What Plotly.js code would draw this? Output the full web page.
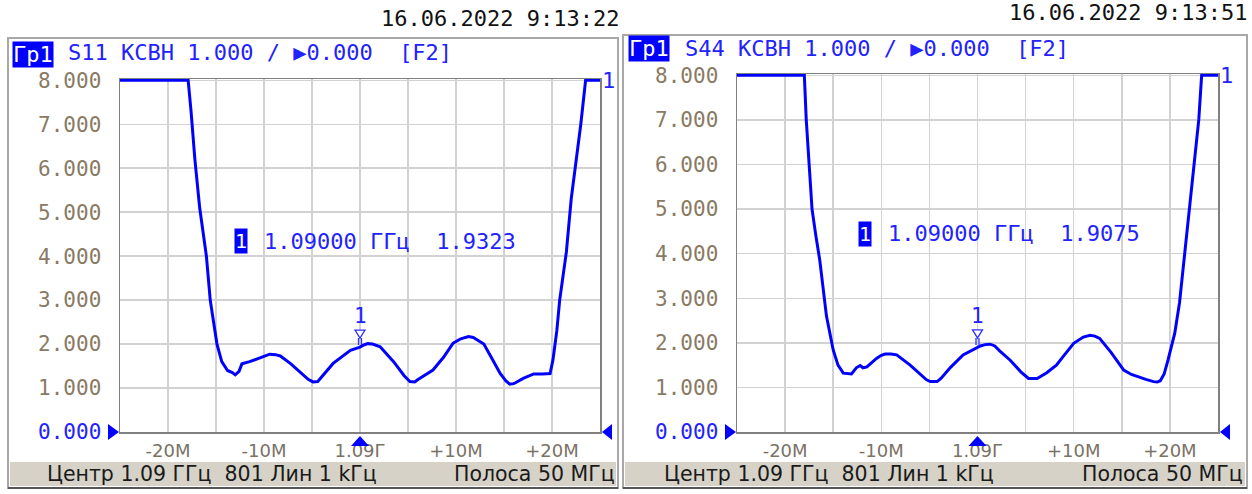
<!DOCTYPE html>
<html>
<head>
<meta charset="utf-8">
<script src="https://cdn.plot.ly/plotly-3.0.1.min.js"></script>
<style>html,body{margin:0;padding:0;background:#fff;}#chart{width:1252px;height:494px;}</style>
</head>
<body>
<div id="chart"></div>
<script>
// ---- data (frequency offset from 1.09 GHz, MHz ; VSWR, display-clipped at 8) ----
const s11Freq = [-25, -17.9, -17.6, -17.2, -16.7, -16.0, -15.6, -15.2, -14.9, -14.4, -13.8, -13.3, -13.0, -12.6, -12.3, -11.5, -10.5, -9.9, -9.4, -8.8, -8.3, -7.2, -6.0, -5.4, -4.9, -4.4, -4.2, -2.8, -1.0, 0.0, 0.4, 0.8, 1.3, 2.1, 3.5, 4.6, 5.2, 5.7, 6.0, 7.6, 8.7, 9.7, 10.5, 11.3, 11.8, 12.2, 12.9, 13.8, 14.6, 15.2, 15.6, 16.0, 16.2, 17.0, 18.1, 19.0, 19.8, 20.1, 20.5, 20.8, 21.5, 22.0, 22.5, 23.0, 23.5, 25];
const s11Vswr = [8, 8, 7.3, 6.2, 5.1, 4.0, 3.0, 2.4, 2.0, 1.6, 1.4, 1.35, 1.30, 1.38, 1.55, 1.60, 1.68, 1.74, 1.77, 1.76, 1.73, 1.55, 1.32, 1.20, 1.14, 1.15, 1.20, 1.56, 1.86, 1.9323, 1.98, 2.01, 2.0, 1.94, 1.60, 1.28, 1.15, 1.14, 1.19, 1.41, 1.70, 2.02, 2.12, 2.17, 2.15, 2.10, 2.00, 1.65, 1.33, 1.16, 1.09, 1.10, 1.12, 1.22, 1.32, 1.32, 1.33, 1.64, 2.3, 3.0, 4.1, 5.3, 6.1, 7.0, 8, 8];
const s44Freq = [-25, -18.0, -17.8, -17.5, -17.2, -16.8, -16.4, -15.7, -15.0, -14.5, -13.95, -13.1, -12.6, -12.2, -11.9, -11.5, -10.5, -10.0, -9.6, -9.0, -8.4, -7.0, -5.9, -5.3, -4.9, -4.2, -3.8, -2.8, -1.5, 0.0, 0.3, 0.8, 1.3, 1.8, 2.3, 3.4, 4.5, 5.3, 6.2, 7.2, 8.2, 9.0, 10.0, 11.0, 11.4, 11.7, 12.2, 12.7, 13.9, 15.2, 16.0, 16.6, 17.5, 18.3, 18.7, 19.0, 19.4, 19.8, 20.5, 21.0, 21.4, 22.1, 22.6, 23.0, 23.3, 25];
const s44Vswr = [8, 8, 7.0, 6.0, 5.0, 4.4, 3.86, 2.6, 1.84, 1.5, 1.32, 1.30, 1.44, 1.49, 1.44, 1.46, 1.65, 1.72, 1.75, 1.75, 1.73, 1.50, 1.28, 1.17, 1.13, 1.13, 1.20, 1.45, 1.73, 1.9075, 1.93, 1.96, 1.97, 1.93, 1.82, 1.61, 1.35, 1.20, 1.20, 1.33, 1.50, 1.72, 1.99, 2.13, 2.16, 2.17, 2.15, 2.10, 1.78, 1.39, 1.29, 1.24, 1.18, 1.13, 1.12, 1.15, 1.30, 1.61, 2.21, 2.9, 3.7, 5.2, 6.2, 7.0, 8, 8];
const xTickVals = [-20, -15, -10, -5, 0, 5, 10, 15, 20];
const xTickText = ['-20М', '', '-10М', '', '1.09Г', '', '+10М', '', '+20М'];
const yTickVals = [0, 1, 2, 3, 4, 5, 6, 7, 8];
const yTickText = ['<span style="color:#2222ff">0.000</span>', '1.000', '2.000', '3.000', '4.000', '5.000', '6.000', '7.000', '8.000'];
const markerFreq = 0;
const markerVals = [1.9323, 1.9075];
const headers = ['S11 КСВН 1.000 / ▶0.000  [F2]', 'S44 КСВН 1.000 / ▶0.000  [F2]'];
const dates = ['16.06.2022 9:13:22', '16.06.2022 9:13:51'];
const readouts = ['1.09000 ГГц  1.9323', '1.09000 ГГц  1.9075'];
const statusLeft = 'Центр 1.09 ГГц  801 Лин 1 kГц';
const statusRight = 'Полоса 50 МГц';

const W = 1252, H = 494;
const px = x => x / W;
const py = y => 1 - y / H;
const MONO = 'DejaVu Sans Mono';
const SANS = 'DejaVu Sans';
const BLUE = '#0000ff';
const TBLUE = '#2222ff';

function xax(dom, anchor) {
  return {domain: dom, anchor: anchor, range: [-25, 25], tickmode: 'array', tickvals: xTickVals, ticktext: xTickText,
    showgrid: true, gridcolor: '#d2d2d2', gridwidth: 1.5, showline: true, linecolor: '#808080', linewidth: 1.5,
    mirror: true, zeroline: false, ticks: 'outside', ticklen: 2, tickcolor: 'rgba(0,0,0,0)',
    tickfont: {family: SANS, size: 18, color: '#7a7266'}, fixedrange: true};
}
function yax(dom, anchor) {
  return {domain: dom, anchor: anchor, range: [0, 8.03], tickmode: 'array', tickvals: yTickVals, ticktext: yTickText,
    showgrid: true, gridcolor: '#d2d2d2', gridwidth: 1.5, showline: true, linecolor: '#808080', linewidth: 1.5,
    mirror: true, zeroline: false, ticks: 'outside', ticklen: 13, tickcolor: 'rgba(0,0,0,0)',
    tickfont: {family: MONO, size: 21, color: '#8a7a64'}, fixedrange: true};
}

const lineStyle = {color: BLUE, width: 3};
const traces = [
  {x: s11Freq, y: s11Vswr, xaxis: 'x', yaxis: 'y', mode: 'lines', line: lineStyle, hoverinfo: 'skip'},
  {x: s44Freq, y: s44Vswr, xaxis: 'x2', yaxis: 'y2', mode: 'lines', line: lineStyle, hoverinfo: 'skip'}
];

const shapes = [];
const annotations = [];
const panels = [
  {fx: [8, 618], fy: 38, pl: 120, pr: 600, xr: 'x', yr: 'y', gx: 12, gy: 54, hx: 66, hy: 53, dx: 621, dy: 18, bx: 234, by: 241, tx: 262, sl: 45, sr: 617},
  {fx: [623, 1247], fy: 35, pl: 737, pr: 1218, xr: 'x2', yr: 'y2', gx: 628, gy: 49, hx: 683, hy: 48, dx: 1249, dy: 13, bx: 858, by: 234, tx: 886, sl: 662, sr: 1245}
];
panels.forEach((p, i) => {
  // window frame
  shapes.push({type: 'rect', xref: 'paper', yref: 'paper', x0: px(p.fx[0]), x1: px(p.fx[1]), y0: py(488), y1: py(p.fy), line: {color: '#a8a8a8', width: 2}, fillcolor: 'rgba(0,0,0,0)', layer: 'below'});
  // status bar
  shapes.push({type: 'rect', xref: 'paper', yref: 'paper', x0: px(p.fx[0] + 2), x1: px(p.fx[1] - 2), y0: py(486), y1: py(462), line: {width: 0}, fillcolor: '#d6d2c8', layer: 'below'});
  shapes.push({type: 'line', xref: 'paper', yref: 'paper', x0: px(p.fx[0]), x1: px(p.fx[1]), y0: py(488), y1: py(488), line: {color: '#555555', width: 2}});
  // axis end triangles (paper-referenced so they are not clipped)
  const yb = py(432);
  shapes.push({type: 'path', xref: 'paper', yref: 'paper', xsizemode: 'pixel', ysizemode: 'pixel', xanchor: px(p.pl), yanchor: yb, path: 'M-12,8 L-1,0 L-12,-8 Z', fillcolor: BLUE, line: {width: 0}});
  shapes.push({type: 'path', xref: 'paper', yref: 'paper', xsizemode: 'pixel', ysizemode: 'pixel', xanchor: px(p.pr), yanchor: yb, path: 'M12,8 L2,0 L12,-8 Z', fillcolor: BLUE, line: {width: 0}});
  shapes.push({type: 'path', xref: 'paper', yref: 'paper', xsizemode: 'pixel', ysizemode: 'pixel', xanchor: px((p.pl + p.pr) / 2), yanchor: yb, path: 'M-9,-14 L0,-4 L9,-14 Z', fillcolor: BLUE, line: {width: 0}});
  // marker on trace
  shapes.push({type: 'path', xref: p.xr, yref: p.yr, xsizemode: 'pixel', ysizemode: 'pixel', xanchor: markerFreq, yanchor: markerVals[i], path: 'M-5,17 L5,17 L0,9 Z M-1.5,9 L-1.5,2 M1.5,9 L1.5,2', fillcolor: '#ffffff', line: {color: '#3030ff', width: 1.3}});
  annotations.push({xref: p.xr, yref: p.yr, x: markerFreq, y: markerVals[i], yshift: 31, text: '1', showarrow: false, font: {family: MONO, size: 21, color: TBLUE}});
  // end-of-trace label
  annotations.push({xref: p.xr, yref: p.yr, x: 25, y: 8, xanchor: 'left', xshift: 0, yshift: 0, text: '1', showarrow: false, font: {family: MONO, size: 22, color: TBLUE}});
  // date
  annotations.push({xref: 'paper', yref: 'paper', x: px(p.dx), y: py(p.dy), xanchor: 'right', yanchor: 'middle', text: dates[i], showarrow: false, font: {family: MONO, size: 22, color: '#111111'}});
  // header
  annotations.push({xref: 'paper', yref: 'paper', x: px(p.gx), y: py(p.gy), xanchor: 'left', yanchor: 'middle', text: 'Гр1', showarrow: false, bgcolor: BLUE, borderpad: 0, font: {family: MONO, size: 22, color: '#ffffff'}});
  annotations.push({xref: 'paper', yref: 'paper', x: px(p.hx), y: py(p.hy), xanchor: 'left', yanchor: 'middle', text: headers[i], showarrow: false, font: {family: MONO, size: 22, color: TBLUE}});
  // marker readout
  annotations.push({xref: 'paper', yref: 'paper', x: px(p.bx), y: py(p.by), xanchor: 'left', yanchor: 'middle', text: '1', showarrow: false, bgcolor: BLUE, borderpad: 0, font: {family: MONO, size: 20, color: '#ffffff'}});
  annotations.push({xref: 'paper', yref: 'paper', x: px(p.tx), y: py(p.by), xanchor: 'left', yanchor: 'middle', text: readouts[i], showarrow: false, font: {family: MONO, size: 22, color: TBLUE}});
  // status bar text
  annotations.push({xref: 'paper', yref: 'paper', x: px(p.sl), y: py(474), xanchor: 'left', yanchor: 'middle', text: statusLeft, showarrow: false, font: {family: SANS, size: 20.5, color: '#1a1a1a'}});
  annotations.push({xref: 'paper', yref: 'paper', x: px(p.sr), y: py(474), xanchor: 'right', yanchor: 'middle', text: statusRight, showarrow: false, font: {family: SANS, size: 20.5, color: '#1a1a1a'}});
});

const layout = {
  width: W, height: H, margin: {l: 0, r: 0, t: 0, b: 0}, showlegend: false,
  paper_bgcolor: '#ffffff', plot_bgcolor: '#ffffff',
  xaxis: xax([120 / W, 600 / W], 'y'),
  yaxis: yax([1 - 432 / H, 1 - 79 / H], 'x'),
  xaxis2: xax([737 / W, 1218 / W], 'y2'),
  yaxis2: yax([1 - 432 / H, 1 - 74 / H], 'x2'),
  shapes: shapes,
  annotations: annotations
};
Plotly.newPlot('chart', traces, layout, {staticPlot: true, displayModeBar: false});
</script>
</body>
</html>
